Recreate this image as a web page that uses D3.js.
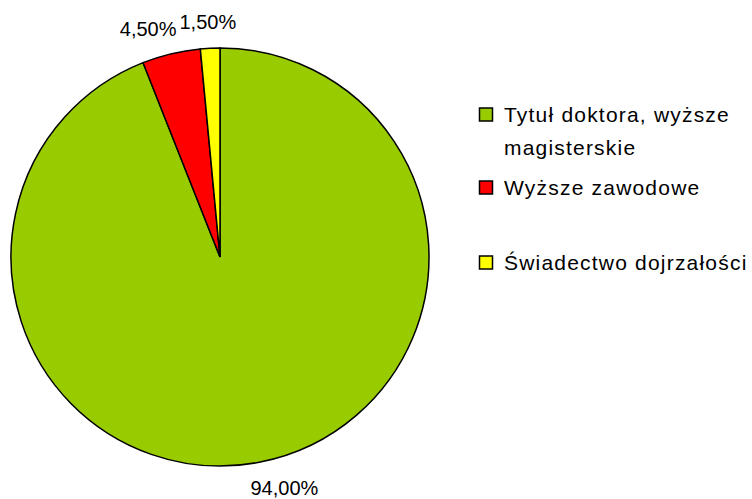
<!DOCTYPE html>
<html>
<head>
<meta charset="utf-8">
<script src="https://cdn.jsdelivr.net/npm/d3@7"></script>
<style>
  body { margin: 0; background: #fff; }
  svg { display: block; }
  .pieLabel { font-family: "Liberation Sans", Arial, sans-serif; font-size: 20px; fill: #000; }
  .legendText { font-family: "Liberation Sans", Arial, sans-serif; font-size: 21px; letter-spacing: 1.2px; fill: #000; }
</style>
</head>
<body>
<div id="chart"></div>
<script>
// chart data
var categories = ["Tytuł doktora, wyższe magisterskie", "Wyższe zawodowe", "Świadectwo dojrzałości"];
var legendLines = [["Tytuł doktora, wyższe", "magisterskie"], ["Wyższe zawodowe"], ["Świadectwo dojrzałości"]];
var shares = [94.0, 4.5, 1.5];
var valueLabels = ["94,00%", "4,50%", "1,50%"];
var sliceColors = ["#99CC00", "#FF0000", "#FFFF00"];

var svgWidth = 752;
var svgHeight = 499;

var cx = 220, cy = 257, radius = 209;

var svg = d3.select("#chart")
    .append("svg")
    .attr("width", svgWidth)
    .attr("height", svgHeight);

var pieGroup = svg.append("g")
    .attr("transform", `translate(${cx}, ${cy})`);

var pie = d3.pie().sort(null).value(d => d);
var arcs = pie(shares);

var arc = d3.arc().innerRadius(0).outerRadius(radius);

pieGroup.selectAll("path")
    .data(arcs)
    .enter()
    .append("path")
    .attr("d", arc)
    .attr("fill", (d, i) => sliceColors[i])
    .attr("stroke", "#000")
    .attr("stroke-width", 1.5)
    .attr("stroke-linejoin", "miter");

// labels outside the slices
var labelRadius = radius + 26;
var labels = arcs.map(function(d, i) {
    var a = (d.startAngle + d.endAngle) / 2;
    var s = Math.sin(a), c = Math.cos(a);
    return {
        text: valueLabels[i],
        x: s * labelRadius,
        y: -c * labelRadius,
        s: s
    };
});

var labelText = pieGroup.selectAll(".pieLabel")
    .data(labels)
    .enter()
    .append("text")
    .attr("class", "pieLabel")
    .attr("text-anchor", "middle")
    .attr("dominant-baseline", "central")
    .text(d => d.text);

// shift each label sideways and avoid overlaps
labelText.each(function(d) {
    var w = this.getComputedTextLength();
    d.w = w;
    d.x = d.x + Math.sign(d.s) * w * 0.3;
});
var ordered = labels.slice().sort((a, b) => a.x - b.x);
for (var k = 1; k < ordered.length; k++) {
    var prev = ordered[k - 1], cur = ordered[k];
    if (Math.abs(prev.y - cur.y) < 22) {
        var minX = prev.x + prev.w / 2 + cur.w / 2 + 3;
        if (cur.x < minX) cur.x = minX;
    }
}
labelText
    .attr("x", d => d.x)
    .attr("y", d => d.y);

// legend
var legend = svg.append("g")
    .attr("transform", "translate(479, 0)");

var legendRowY = [115, 188, 263];
var boxSize = 14;
var lineGap = 33;

categories.forEach(function(cat, i) {
    var row = legend.append("g")
        .attr("transform", `translate(0, ${legendRowY[i]})`);
    row.append("rect")
        .attr("x", 0.5)
        .attr("y", -boxSize / 2)
        .attr("width", boxSize - 1)
        .attr("height", boxSize - 1)
        .attr("fill", sliceColors[i])
        .attr("stroke", "#000")
        .attr("stroke-width", 1.5);
    legendLines[i].forEach(function(line, j) {
        row.append("text")
            .attr("class", "legendText")
            .attr("x", 25)
            .attr("y", 7 + j * lineGap)
            .text(line);
    });
});
</script>
</body>
</html>
